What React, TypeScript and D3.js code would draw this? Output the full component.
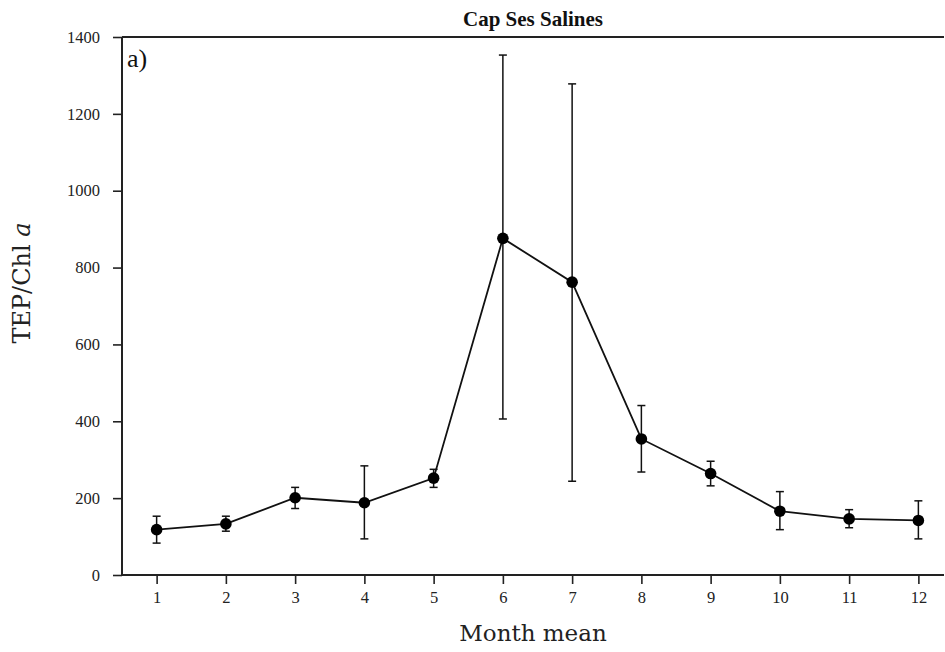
import { useEffect, useRef } from "react"
import * as d3 from "d3"

const months = [1, 2, 3, 4, 5, 6, 7, 8, 9, 10, 11, 12]
const meanValues = [118, 133, 201, 188, 252, 876, 762, 354, 264, 166, 146, 142]
const upperValues = [153, 153, 228, 284, 275, 1353, 1278, 441, 296, 217, 170, 193]
const lowerValues = [83, 114, 173, 94, 228, 406, 244, 268, 232, 118, 123, 94]
const yTicks = [0, 200, 400, 600, 800, 1000, 1200, 1400]

const FONT = "'Liberation Serif', 'DejaVu Serif', serif"
const WIDE_FONT = "'DejaVu Serif', 'Liberation Serif', serif"

export default function App() {
  const svgRef = useRef<SVGSVGElement>(null)

  useEffect(() => {
    if (!svgRef.current) return
    const width = 945
    const height = 652
    const margin = { top: 37, right: 1, bottom: 77, left: 122 }

    d3.select(svgRef.current).selectAll("*").remove()
    const svg = d3.select(svgRef.current).attr("width", width).attr("height", height)

    const x = d3.scaleLinear().domain([0.5, 12.37]).range([margin.left, width - margin.right])
    const y = d3.scaleLinear().domain([0, 1400]).range([height - margin.bottom, margin.top])

    // axes
    const xAxis = svg
      .append("g")
      .attr("transform", `translate(0,${y(0)})`)
      .call(d3.axisBottom(x).tickValues(months).tickSize(9).tickPadding(7).tickFormat(d3.format("d")))
    xAxis.select(".domain").attr("d", `M${x.range()[0]},0H${x.range()[1]}`)

    const yAxis = svg
      .append("g")
      .attr("transform", `translate(${margin.left},0)`)
      .call(d3.axisLeft(y).tickValues(yTicks).tickSize(9).tickPadding(13).tickFormat(d3.format("d")))
    yAxis.select(".domain").attr("d", `M0,${y.range()[0]}V${y.range()[1]}`)

    svg.selectAll(".domain").attr("stroke", "#222").attr("stroke-width", 2)
    svg.selectAll(".tick line").attr("stroke", "#222").attr("stroke-width", 1.6)
    svg
      .selectAll(".tick text")
      .attr("font-family", FONT)
      .attr("font-size", 16.5)
      .attr("fill", "#222")

    // top frame line
    svg
      .append("line")
      .attr("x1", margin.left)
      .attr("x2", width - margin.right)
      .attr("y1", y(1400))
      .attr("y2", y(1400))
      .attr("stroke", "#222")
      .attr("stroke-width", 2)

    // error bars
    const capW = 4
    const bars = svg.append("g").attr("stroke", "#111").attr("stroke-width", 1.5)
    months.forEach((m, i) => {
      const cx = x(m)
      bars.append("line").attr("x1", cx).attr("x2", cx).attr("y1", y(lowerValues[i])).attr("y2", y(upperValues[i]))
      bars.append("line").attr("x1", cx - capW).attr("x2", cx + capW).attr("y1", y(upperValues[i])).attr("y2", y(upperValues[i]))
      bars.append("line").attr("x1", cx - capW).attr("x2", cx + capW).attr("y1", y(lowerValues[i])).attr("y2", y(lowerValues[i]))
    })

    // mean line
    const line = d3
      .line<number>()
      .x((d, i) => x(months[i]))
      .y((d) => y(d))
    svg
      .append("path")
      .datum(meanValues)
      .attr("d", line)
      .attr("fill", "none")
      .attr("stroke", "#111")
      .attr("stroke-width", 1.8)

    svg
      .selectAll(".pt")
      .data(meanValues)
      .enter()
      .append("circle")
      .attr("class", "pt")
      .attr("cx", (d, i) => x(months[i]))
      .attr("cy", (d) => y(d))
      .attr("r", 5.8)
      .attr("fill", "#000")

    // title
    svg
      .append("text")
      .attr("x", (x.range()[0] + x.range()[1]) / 2)
      .attr("y", 26)
      .attr("text-anchor", "middle")
      .attr("font-family", FONT)
      .attr("font-weight", "bold")
      .attr("font-size", 21)
      .attr("fill", "#111")
      .text("Cap Ses Salines")

    // panel label
    svg
      .append("text")
      .attr("x", 127)
      .attr("y", 67)
      .attr("font-family", FONT)
      .attr("font-size", 26)
      .attr("fill", "#111")
      .text("a)")

    // x label
    svg
      .append("text")
      .attr("x", (x.range()[0] + x.range()[1]) / 2)
      .attr("y", 641)
      .attr("text-anchor", "middle")
      .attr("font-family", WIDE_FONT)
      .attr("font-size", 23)
      .attr("fill", "#222")
      .text("Month mean")

    // y label
    const yl = svg
      .append("text")
      .attr("transform", `translate(30,283) rotate(-90)`)
      .attr("text-anchor", "middle")
      .attr("font-family", WIDE_FONT)
      .attr("font-size", 24)
      .attr("fill", "#222")
    yl.append("tspan").text("TEP/Chl ")
    yl.append("tspan").attr("font-style", "italic").text("a")
  }, [])

  return (
    <div style={{ position: "absolute", left: 0, top: 0 }}>
      <svg ref={svgRef} style={{ display: "block" }} />
    </div>
  )
}
